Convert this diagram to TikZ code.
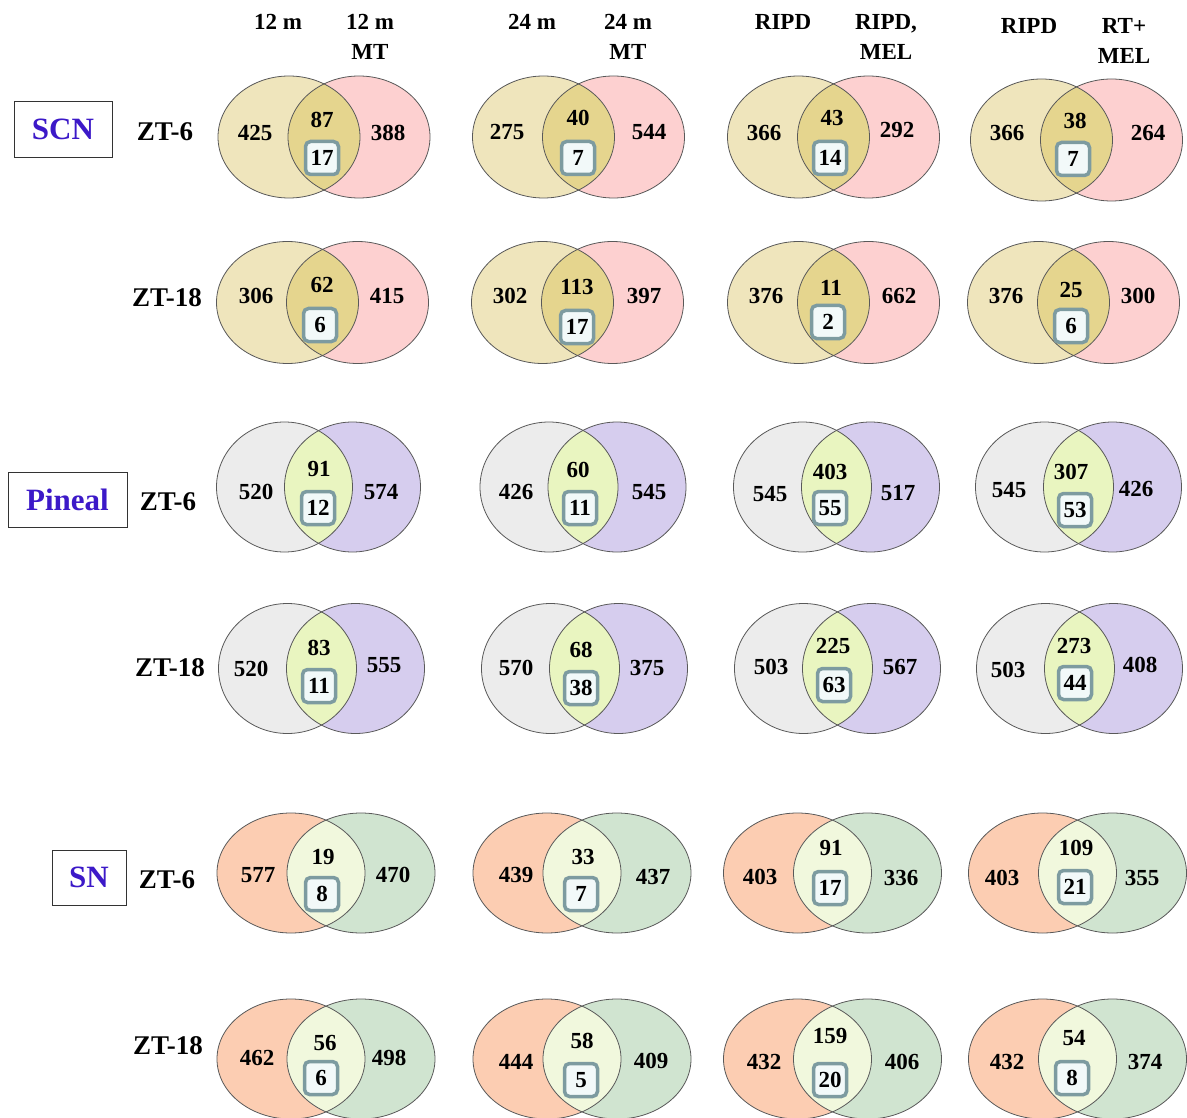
\documentclass[tikz,border=0pt]{standalone}
\usepackage{fontspec}
\setmainfont{Liberation Serif}
\begin{document}
\begin{tikzpicture}[x=1pt,y=-1pt,
  num/.style={font=\fontsize{23}{26}\selectfont\bfseries, inner sep=0pt},
  boxnum/.style={font=\fontsize{23}{26}\selectfont\bfseries, draw=boxedge, line width=3.5pt, fill=boxfill, rounded corners=5pt, minimum width=33pt, minimum height=33pt, inner sep=0pt},
  hdr/.style={font=\fontsize{23}{30}\selectfont\bfseries, align=center, inner sep=0pt},
  zt/.style={font=\fontsize{27}{30}\selectfont\bfseries, inner sep=0pt},
  grp/.style={font=\fontsize{31}{34}\selectfont\bfseries, text=grpblue, draw=black!80, line width=0.8pt, inner sep=0pt},
  outl/.style={draw=black!65, line width=0.8pt}]
\definecolor{boxedge}{RGB}{125,155,160}
\definecolor{boxfill}{RGB}{242,249,249}
\definecolor{grpblue}{RGB}{60,25,200}
\definecolor{scnL}{RGB}{239,229,188}
\definecolor{scnR}{RGB}{253,208,208}
\definecolor{scnI}{RGB}{229,213,142}
\definecolor{pinL}{RGB}{236,236,236}
\definecolor{pinR}{RGB}{214,205,238}
\definecolor{pinI}{RGB}{233,245,192}
\definecolor{snL}{RGB}{252,205,178}
\definecolor{snR}{RGB}{208,228,208}
\definecolor{snI}{RGB}{241,248,221}
\useasboundingbox (0,0) rectangle (1187,1118);
\fill[white] (0,0) rectangle (1187,1118);
% #1 palette prefix, #2 cx, #3 cy, #4 rx, #5 ry, #6 half separation
\newcommand\vennshape[6]{%
  \fill[#1L] (#2-#6,#3) ellipse [x radius=#4, y radius=#5];
  \fill[#1R] (#2+#6,#3) ellipse [x radius=#4, y radius=#5];
  \begin{scope}
    \clip (#2-#6,#3) ellipse [x radius=#4, y radius=#5];
    \fill[#1I] (#2+#6,#3) ellipse [x radius=#4, y radius=#5];
  \end{scope}
  \draw[outl] (#2-#6,#3) ellipse [x radius=#4, y radius=#5];
  \draw[outl] (#2+#6,#3) ellipse [x radius=#4, y radius=#5];
}
% headers
\node[hdr] (h1) at (278,22) {12 m};
\node[hdr] (h2) at (370,37) {12 m\\MT};
\node[hdr] (h3) at (532,22) {24 m};
\node[hdr] (h4) at (628,37) {24 m\\MT};
\node[hdr] (h5) at (783,22) {RIPD};
\node[hdr] (h6) at (886,37) {RIPD,\\MEL};
\node[hdr] (h7) at (1029,26) {RIPD};
\node[hdr] (h8) at (1124,41) {RT+\\MEL};
% groups
\node[grp, minimum width=98pt, minimum height=56pt] (gscn) at (63,129) {SCN};
\node[grp, minimum width=119pt, minimum height=55pt] (gpin) at (67.5,499.5) {Pineal};
\node[grp, minimum width=74pt, minimum height=55pt] (gsn) at (89,877.5) {SN};
% ZT labels
\node[zt] (z1) at (165,132) {ZT-6};
\node[zt] (z2) at (167,298) {ZT-18};
\node[zt] (z3) at (168,502) {ZT-6};
\node[zt] (z4) at (170,668) {ZT-18};
\node[zt] (z5) at (167,880) {ZT-6};
\node[zt] (z6) at (168,1046) {ZT-18};
% ---------- SCN ZT-6
\vennshape{scn}{324}{137}{71}{61}{35}
\node[num] (a1l) at (255,133) {425}; \node[num] (a1m) at (322,120) {87};
\node[boxnum] (a1b) at (322,158) {17}; \node[num] (a1r) at (388,133) {388};
\vennshape{scn}{578.5}{137}{71}{61}{35}
\node[num] (a2l) at (507,132) {275}; \node[num] (a2m) at (578,118) {40};
\node[boxnum] (a2b) at (578,158) {7}; \node[num] (a2r) at (649,132) {544};
\vennshape{scn}{833.5}{137}{71}{61}{35}
\node[num] (a3l) at (764,133) {366}; \node[num] (a3m) at (832,118) {43};
\node[boxnum] (a3b) at (830,158) {14}; \node[num] (a3r) at (897,130) {292};
\vennshape{scn}{1076.5}{140}{71}{61}{35}
\node[num] (a4l) at (1007,133) {366}; \node[num] (a4m) at (1075,121) {38};
\node[boxnum] (a4b) at (1073,159) {7}; \node[num] (a4r) at (1148,133) {264};
% ---------- SCN ZT-18
\vennshape{scn}{322.5}{302.5}{71}{61}{35}
\node[num] (b1l) at (256,296) {306}; \node[num] (b1m) at (322,285) {62};
\node[boxnum] (b1b) at (320,325) {6}; \node[num] (b1r) at (387,296) {415};
\vennshape{scn}{577.5}{302.5}{71}{61}{35}
\node[num] (b2l) at (510,296) {302}; \node[num] (b2m) at (577,287) {113};
\node[boxnum] (b2b) at (577,327) {17}; \node[num] (b2r) at (644,296) {397};
\vennshape{scn}{833.5}{302.5}{71}{61}{35}
\node[num] (b3l) at (766,296) {376}; \node[num] (b3m) at (831,288) {11};
\node[boxnum] (b3b) at (828,322) {2}; \node[num] (b3r) at (899,296) {662};
\vennshape{scn}{1073.5}{302.5}{71}{61}{35}
\node[num] (b4l) at (1006,296) {376}; \node[num] (b4m) at (1071,290) {25};
\node[boxnum] (b4b) at (1071,326) {6}; \node[num] (b4r) at (1138,296) {300};
% ---------- Pineal ZT-6
\vennshape{pin}{318.5}{487}{68}{65}{34}
\node[num] (c1l) at (256,492) {520}; \node[num] (c1m) at (319,469) {91};
\node[boxnum] (c1b) at (318,508) {12}; \node[num] (c1r) at (381,492) {574};
\vennshape{pin}{583}{487}{69}{65}{34}
\node[num] (c2l) at (516,492) {426}; \node[num] (c2m) at (578,470) {60};
\node[boxnum] (c2b) at (580,508) {11}; \node[num] (c2r) at (649,492) {545};
\vennshape{pin}{836.5}{487}{69}{65}{34}
\node[num] (c3l) at (770,494) {545}; \node[num] (c3m) at (830,472) {403};
\node[boxnum] (c3b) at (830,508) {55}; \node[num] (c3r) at (898,493) {517};
\vennshape{pin}{1078.5}{487}{69}{65}{34}
\node[num] (c4l) at (1009,490) {545}; \node[num] (c4m) at (1071,472) {307};
\node[boxnum] (c4b) at (1075,510) {53}; \node[num] (c4r) at (1136,489) {426};
% ---------- Pineal ZT-18
\vennshape{pin}{321.5}{668.5}{69}{65}{34}
\node[num] (d1l) at (251,669) {520}; \node[num] (d1m) at (319,648) {83};
\node[boxnum] (d1b) at (319,686) {11}; \node[num] (d1r) at (384,665) {555};
\vennshape{pin}{584.5}{668.5}{69}{65}{34}
\node[num] (d2l) at (516,668) {570}; \node[num] (d2m) at (581,650) {68};
\node[boxnum] (d2b) at (581,688) {38}; \node[num] (d2r) at (647,668) {375};
\vennshape{pin}{837.5}{668.5}{69}{65}{34}
\node[num] (d3l) at (771,667) {503}; \node[num] (d3m) at (833,646) {225};
\node[boxnum] (d3b) at (834,685) {63}; \node[num] (d3r) at (900,667) {567};
\vennshape{pin}{1079.5}{668.5}{69}{65}{34}
\node[num] (d4l) at (1008,670) {503}; \node[num] (d4m) at (1074,646) {273};
\node[boxnum] (d4b) at (1075,683) {44}; \node[num] (d4r) at (1140,665) {408};
% ---------- SN ZT-6
\vennshape{sn}{326}{873}{74}{60}{35}
\node[num] (e1l) at (258,875) {577}; \node[num] (e1m) at (323,857) {19};
\node[boxnum] (e1b) at (322,894) {8}; \node[num] (e1r) at (393,875) {470};
\vennshape{sn}{582}{873}{74}{60}{35}
\node[num] (e2l) at (516,875) {439}; \node[num] (e2m) at (583,857) {33};
\node[boxnum] (e2b) at (581,894) {7}; \node[num] (e2r) at (653,877) {437};
\vennshape{sn}{832.5}{873}{74}{60}{35}
\node[num] (e3l) at (760,877) {403}; \node[num] (e3m) at (831,848) {91};
\node[boxnum] (e3b) at (830,888) {17}; \node[num] (e3r) at (901,878) {336};
\vennshape{sn}{1077.5}{873}{74}{60}{35}
\node[num] (e4l) at (1002,878) {403}; \node[num] (e4m) at (1076,848) {109};
\node[boxnum] (e4b) at (1075,887) {21}; \node[num] (e4r) at (1142,878) {355};
% ---------- SN ZT-18
\vennshape{sn}{326}{1059}{74}{60}{35}
\node[num] (f1l) at (257,1058) {462}; \node[num] (f1m) at (325,1043) {56};
\node[boxnum] (f1b) at (321,1078) {6}; \node[num] (f1r) at (389,1058) {498};
\vennshape{sn}{582}{1059}{74}{60}{35}
\node[num] (f2l) at (516,1062) {444}; \node[num] (f2m) at (582,1041) {58};
\node[boxnum] (f2b) at (581,1080) {5}; \node[num] (f2r) at (651,1061) {409};
\vennshape{sn}{832.5}{1059}{74}{60}{35}
\node[num] (f3l) at (764,1062) {432}; \node[num] (f3m) at (830,1036) {159};
\node[boxnum] (f3b) at (830,1080) {20}; \node[num] (f3r) at (902,1062) {406};
\vennshape{sn}{1077.5}{1059}{74}{60}{35}
\node[num] (f4l) at (1007,1062) {432}; \node[num] (f4m) at (1074,1038) {54};
\node[boxnum] (f4b) at (1072,1078) {8}; \node[num] (f4r) at (1145,1062) {374};
\end{tikzpicture}
\end{document}
